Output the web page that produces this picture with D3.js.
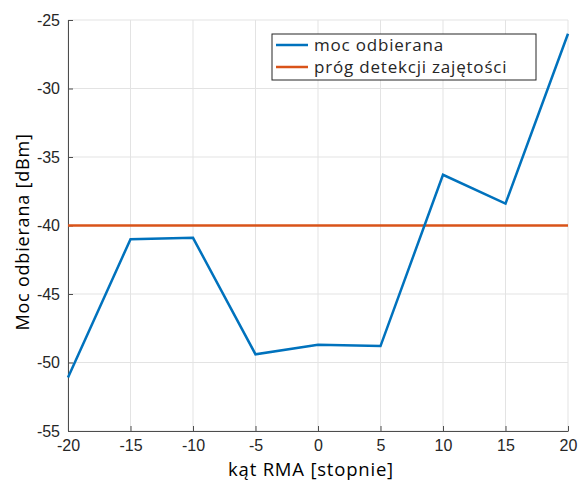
<!DOCTYPE html>
<html><head><meta charset="utf-8">
<script src="https://cdn.jsdelivr.net/npm/d3@7"></script>
<style>body{margin:0;background:#fff}</style>
</head><body>
<script>
const angles = [-20,-15,-10,-5,0,5,10,15,20];
const power = [-51.1,-41.0,-40.9,-49.4,-48.7,-48.8,-36.3,-38.4,-26.0];
const threshold = -40;
const xTicks = [-20,-15,-10,-5,0,5,10,15,20];
const yTicks = [-55,-50,-45,-40,-35,-30,-25];
const seriesNames = ["moc odbierana","próg detekcji zajętości"];
const colors = ["#0072BD","#D95319"];

const W=581,H=483;
const m={l:68,r:13,t:20,b:52};
const svg=d3.select("body").append("svg").attr("width",W).attr("height",H);
const x=d3.scaleLinear().domain([-20,20]).range([m.l,W-m.r]);
const y=d3.scaleLinear().domain([-55,-25]).range([H-m.b,m.t]);

const g=svg.append("g");
g.selectAll(".vg").data(xTicks).enter().append("line")
 .attr("x1",d=>x(d)).attr("x2",d=>x(d)).attr("y1",m.t).attr("y2",H-m.b)
 .attr("stroke","#e3e3e3").attr("stroke-width",1);
g.selectAll(".hg").data(yTicks).enter().append("line")
 .attr("y1",d=>y(d)).attr("y2",d=>y(d)).attr("x1",m.l).attr("x2",W-m.r)
 .attr("stroke","#e3e3e3").attr("stroke-width",1);

const tickFont="'Liberation Sans', Arial, sans-serif";
const fmt=d=>String(d);
const xa=svg.append("g").attr("transform",`translate(0,${H-m.b})`)
 .call(d3.axisBottom(x).tickValues(xTicks).tickFormat(fmt).tickSize(5).tickSizeOuter(0).tickPadding(4));
const ya=svg.append("g").attr("transform",`translate(${m.l},0)`)
 .call(d3.axisLeft(y).tickValues(yTicks).tickFormat(fmt).tickSize(5).tickSizeOuter(0).tickPadding(3));
[xa,ya].forEach(a=>{
 a.select(".domain").attr("stroke","#4d4d4d").attr("stroke-width",1);
 a.selectAll(".tick line").attr("stroke","#4d4d4d");
 a.selectAll("text").attr("fill","#262626").style("font-family",tickFont).style("font-size","16px");
});
xa.selectAll(".tick line").attr("y2",-5);
ya.selectAll(".tick line").attr("x2",5);

svg.append("line").attr("x1",x(-20)).attr("x2",x(20)).attr("y1",y(threshold)).attr("y2",y(threshold))
 .attr("stroke",colors[1]).attr("stroke-width",2.5);
svg.append("path").datum(angles.map((a,i)=>[a,power[i]]))
 .attr("d",d3.line().x(d=>x(d[0])).y(d=>y(d[1])))
 .attr("fill","none").attr("stroke",colors[0]).attr("stroke-width",2.5);

const labFont="'Open Sans', 'Noto Sans', sans-serif";
svg.append("text").attr("x",311).attr("y",476).attr("text-anchor","middle")
 .style("font-family",labFont).style("font-size","18.5px").style("letter-spacing","0.8px").attr("fill","#000").text("kąt RMA [stopnie]");
svg.append("text").attr("transform",`translate(29,232) rotate(-90)`).attr("text-anchor","middle")
 .style("font-family",labFont).style("font-size","18px").style("letter-spacing","0.8px").attr("fill","#000").text("Moc odbierana [dBm]");

const lg=svg.append("g");
lg.append("rect").attr("x",272).attr("y",34).attr("width",264).attr("height",46)
 .attr("fill","#fff").attr("stroke","#262626").attr("stroke-width",1);
seriesNames.forEach((n,i)=>{
 const yy=45+i*22;
 lg.append("line").attr("x1",276).attr("x2",308).attr("y1",yy).attr("y2",yy).attr("stroke",colors[i]).attr("stroke-width",2.5);
 lg.append("text").attr("x",314).attr("y",yy+5.5).style("font-family",labFont).style("font-size","17px").style("letter-spacing","0.8px").attr("fill","#262626").text(n);
});
</script>
</body></html>
